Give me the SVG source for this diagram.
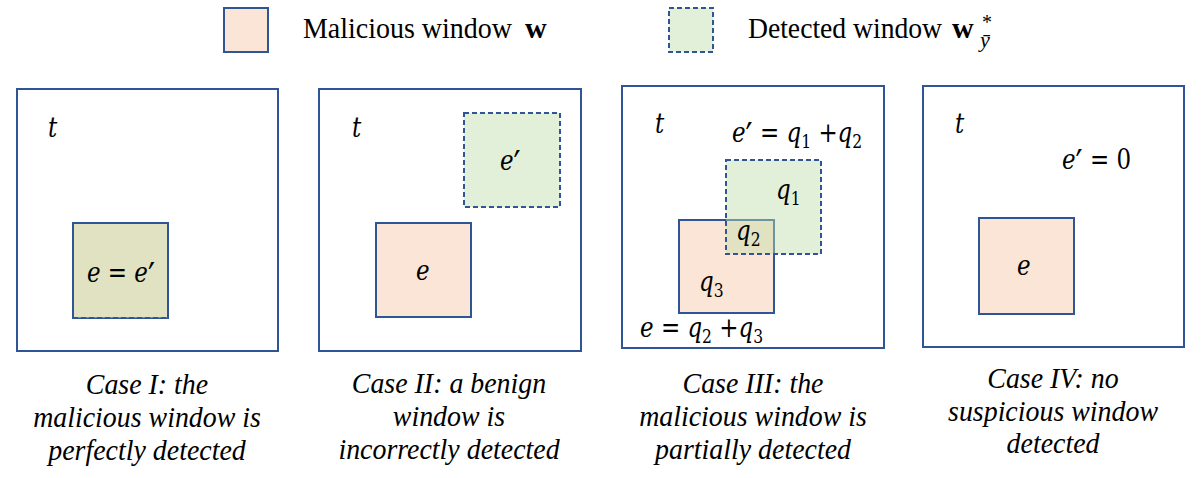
<svg xmlns="http://www.w3.org/2000/svg" width="1202" height="478" viewBox="0 0 1202 478">
<style>
.frame{fill:#ffffff;stroke:#2f5597;stroke-width:2}
.mal{fill:#fbe5d6;stroke:#2f5597;stroke-width:2}
.det{fill:#bfdeab;fill-opacity:0.45;stroke:#2f5597;stroke-width:2;stroke-dasharray:5 3}
.edge{fill:none;stroke:#2f5597;stroke-width:2}
.math{font-family:'DejaVu Serif',serif;font-style:italic;font-size:28px;fill:#000}
.num{font-style:normal;font-size:19px}
.pr{font-family:'DejaVu Sans',sans-serif;font-style:normal;font-size:38px}
.cap{font-family:'Liberation Serif','Times New Roman',serif;font-style:italic;font-size:30px;text-anchor:middle;fill:#000}
.leg{font-family:'Liberation Serif','Times New Roman',serif;font-size:30px;fill:#000}
.bold{font-weight:bold}
</style>
<rect x="0" y="0" width="1202" height="478" fill="#ffffff"/>
<g id="legend">
  <rect class="mal" x="224" y="8" width="44" height="44"/>
  <text class="leg" x="303" y="38" textLength="209" lengthAdjust="spacingAndGlyphs">Malicious window</text>
  <text class="leg bold" x="525" y="38">w</text>
  <rect class="det" x="669" y="8" width="44" height="44"/>
  <text class="leg" x="748" y="38" textLength="194" lengthAdjust="spacingAndGlyphs">Detected window</text>
  <text class="leg" x="952" y="38"><tspan class="bold">w</tspan><tspan font-size="20" x="982" y="29">*</tspan><tspan font-size="22" font-style="italic" x="980" y="47">ȳ</tspan></text>
</g>
<g id="connectors"></g>
<g id="case1">
  <rect class="frame" x="17" y="89" width="261" height="262"/>
  <rect class="mal" x="73" y="223" width="95" height="95"/>
  <rect class="det" x="73" y="223" width="95" height="95"/>
  <path class="edge" d="M73,318 V223 H168 V318"/>
  <text class="math" transform="translate(48,137) scale(0.82,1)">t</text>
  <text class="math" transform="translate(121,282) scale(0.82,1)" text-anchor="middle">e = e<tspan class="pr" dy="7">′</tspan></text>
  <g transform="translate(147,0) scale(0.93,1)">
    <text class="cap" x="0" y="394">Case I: the</text>
    <text class="cap" x="0" y="427">malicious window is</text>
    <text class="cap" x="0" y="460">perfectly detected</text>
  </g>
</g>
<g id="case2">
  <rect class="frame" x="319" y="89" width="262" height="262"/>
  <rect class="det" x="464" y="113" width="96" height="94"/>
  <rect class="mal" x="376" y="223" width="95" height="94"/>
  <text class="math" transform="translate(352,137) scale(0.82,1)">t</text>
  <text class="math" transform="translate(500,170) scale(0.82,1)">e<tspan class="pr" dy="7">′</tspan></text>
  <text class="math" transform="translate(416,280) scale(0.82,1)">e</text>
  <g transform="translate(449,0) scale(0.93,1)">
    <text class="cap" x="0" y="393">Case II: a benign</text>
    <text class="cap" x="0" y="426">window is</text>
    <text class="cap" x="0" y="459">incorrectly detected</text>
  </g>
</g>
<g id="case3">
  <rect class="frame" x="622" y="86" width="262" height="262"/>
  <rect class="mal" x="679" y="220" width="95" height="93"/>
  <rect class="det" x="726" y="160" width="95" height="94"/>
  <text class="math" transform="translate(655,133) scale(0.82,1)">t</text>
  <text class="math" transform="translate(732,142) scale(0.82,1)">e<tspan class="pr" dy="7">′</tspan><tspan dy="-7"> = q</tspan><tspan class="num" dy="6">1</tspan><tspan dy="-6"> +q</tspan><tspan class="num" dy="6">2</tspan></text>
  <text class="math" transform="translate(776,199) scale(0.82,1)">q<tspan class="num" dy="6">1</tspan></text>
  <text class="math" transform="translate(736,240) scale(0.82,1)">q<tspan class="num" dy="6">2</tspan></text>
  <text class="math" transform="translate(699,291) scale(0.82,1)">q<tspan class="num" dy="6">3</tspan></text>
  <text class="math" transform="translate(640,337) scale(0.82,1)">e = q<tspan class="num" dy="6">2</tspan><tspan dy="-6"> +q</tspan><tspan class="num" dy="6">3</tspan></text>
  <g transform="translate(753,0) scale(0.93,1)">
    <text class="cap" x="0" y="393">Case III: the</text>
    <text class="cap" x="0" y="426">malicious window is</text>
    <text class="cap" x="0" y="459">partially detected</text>
  </g>
</g>
<g id="case4">
  <rect class="frame" x="923" y="86" width="261" height="261"/>
  <rect class="mal" x="979" y="218" width="95" height="96"/>
  <text class="math" transform="translate(955,133) scale(0.82,1)">t</text>
  <text class="math" transform="translate(1062,169) scale(0.82,1)">e<tspan class="pr" dy="7">′</tspan><tspan dy="-7"> = </tspan><tspan font-style="normal">0</tspan></text>
  <text class="math" transform="translate(1017,275) scale(0.82,1)">e</text>
  <g transform="translate(1053,0) scale(0.93,1)">
    <text class="cap" x="0" y="388">Case IV: no</text>
    <text class="cap" x="0" y="421">suspicious window</text>
    <text class="cap" x="0" y="453">detected</text>
  </g>
</g>
</svg>
